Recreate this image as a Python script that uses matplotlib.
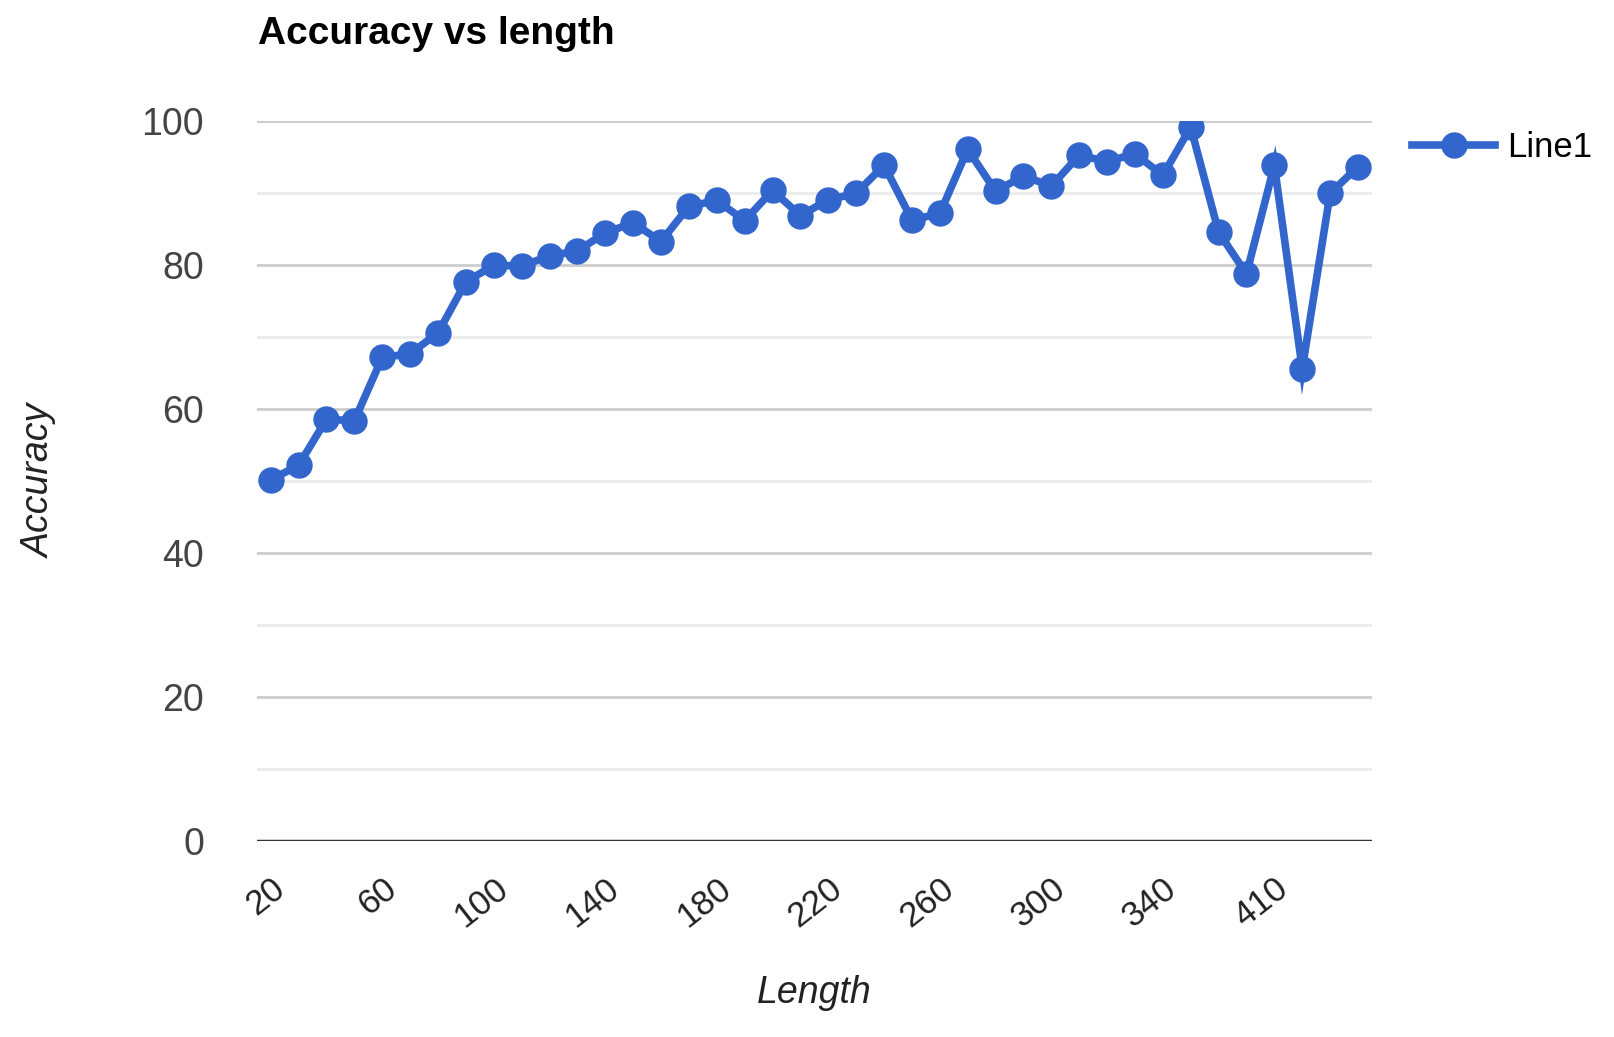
import numpy as np
import matplotlib
matplotlib.use("Agg")
import matplotlib.pyplot as plt

plt.rcParams['font.family'] = ['Liberation Sans', 'DejaVu Sans']

# lengths (only every 4th is labelled on the chart)
lengths = [20, 30, 40, 50, 60, 70, 80, 90, 100, 110,
           120, 130, 140, 150, 160, 170, 180, 190, 200, 210,
           220, 230, 240, 250, 260, 270, 280, 290, 300, 310,
           320, 330, 340, 350, 370, 390, 410, 430, 450, 480]
accuracy = [50.2, 52.2, 58.6, 58.4, 67.2, 67.7, 70.6, 77.7, 80.0, 79.9,
            81.3, 82.0, 84.5, 85.9, 83.3, 88.2, 89.0, 86.2, 90.4, 86.9,
            89.1, 90.0, 93.9, 86.3, 87.2, 96.1, 90.3, 92.4, 91.0, 95.3,
            94.4, 95.5, 92.5, 99.2, 84.6, 78.8, 93.9, 65.6, 90.0, 93.7]

x = np.arange(len(lengths))

fig = plt.figure(figsize=(16.15, 10.37), dpi=100)
ax = fig.add_axes([0.159, 0.189, 0.6905, 0.694])

ax.plot(x, accuracy, color="#3366cc", lw=5.5, marker="o", ms=18,
        solid_joinstyle="miter", label="Line1", zorder=3)

ax.set_xlim(-0.5, len(lengths) - 0.5)
ax.set_ylim(0, 100)

# gridlines google-charts style
ax.set_yticks(np.arange(0, 101, 20))
ax.set_yticks(np.arange(10, 100, 20), minor=True)
ax.grid(axis="y", which="major", color="#cccccc", lw=2)
ax.grid(axis="y", which="minor", color="#ebebeb", lw=2)
ax.axhline(0, color="#333333", lw=2.5, zorder=2)
ax.set_axisbelow(True)
for s in ax.spines.values():
    s.set_visible(False)

ax.set_xticks(x[::4])
ax.set_xticklabels([str(v) for v in lengths[::4]], rotation=38,
                   ha="right", va="top", rotation_mode="anchor",
                   fontsize=25, color="#222222")
ax.tick_params(axis="x", length=0, pad=22)
ax.tick_params(axis="y", which="both", length=0, pad=38,
               labelsize=27, labelcolor="#444444")

ax.set_xlabel("Length", fontsize=27, style="italic", color="#222222",
              labelpad=30)
ax.set_ylabel("Accuracy", fontsize=27, style="italic", color="#222222",
              labelpad=60)

fig.text(0.16, 0.967, "Accuracy vs length", fontsize=28, weight="bold",
         va="center", ha="left")

ax.legend(loc="upper left", bbox_to_anchor=(1.008, 1.03), frameon=False,
          fontsize=25, handlelength=2.4, handletextpad=0.35)

fig.savefig("out.png", dpi=100)
